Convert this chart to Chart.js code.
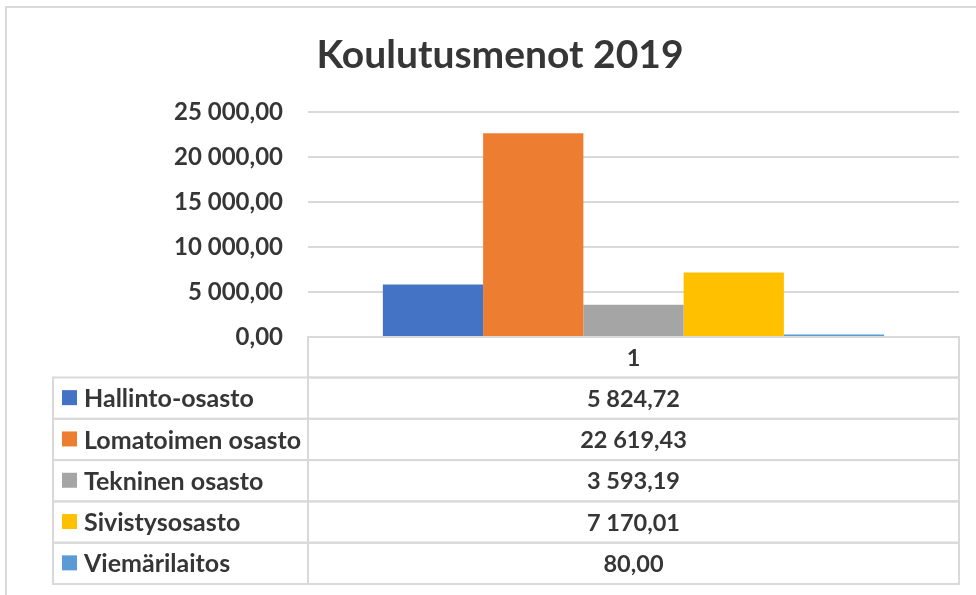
<!DOCTYPE html>
<html>
<head>
<meta charset="utf-8">
<script src="https://cdn.jsdelivr.net/npm/chart.js@4.4.1/dist/chart.umd.min.js"></script>
<style>
  html, body { margin: 0; padding: 0; background: #fff; overflow: hidden; }
  #wrap { position: relative; width: 976px; height: 595px; }
  #frame { position: absolute; left: 5px; top: 6px; width: 1100px; height: 700px; border: 2px solid #d9d9d9; box-sizing: border-box; }
  canvas { position: absolute; left: 0; top: 0; }
</style>
</head>
<body>
<div id="wrap">
  <div id="frame"></div>
  <canvas id="chart" width="976" height="595"></canvas>
</div>
<script>
// datos del gráfico
const categories   = ['1'];
const seriesNames  = ['Hallinto-osasto', 'Lomatoimen osasto', 'Tekninen osasto', 'Sivistysosasto', 'Viemärilaitos'];
const seriesValues = [5824.72, 22619.43, 3593.19, 7170.01, 80.00];
const seriesColors = ['#4472C4', '#ED7D31', '#A5A5A5', '#FFC000', '#5B9BD5'];
const yMin  = 0;
const yMax  = 25000;
const yStep = 5000;

const TEXT = '#363636';
const GRID = '#d9d9d9';

// formato finés: espacio como separador de miles y coma decimal
function fmtFi(n) {
  const [ent, dec] = Number(n).toFixed(2).split('.');
  return ent.replace(/\B(?=(\d{3})+(?!\d))/g, ' ') + ',' + dec;
}

// tabla de datos debajo del eje, como en Excel
const dataTable = {
  id: 'dataTable',
  afterDatasetsDraw(chart) {
    const { ctx } = chart;
    const x = chart.scales.x;
    const y = chart.scales.y;
    const top = y.getPixelForValue(0);
    const headH = 40.5;
    const rowH = 41.3;
    const labelLeft = x.left - 255;

    ctx.save();
    ctx.strokeStyle = GRID;
    ctx.lineWidth = 2;
    ctx.fillStyle = TEXT;
    ctx.textBaseline = 'middle';

    // cabecera con la categoría
    ctx.strokeRect(x.left, top, x.right - x.left, headH);
    ctx.font = 'bold 23.5px Lato';
    ctx.textAlign = 'center';
    ctx.fillText(categories[0], (x.left + x.right) / 2, top + headH / 2 + 1);

    let rt = top + headH;
    seriesNames.forEach((name, i) => {
      ctx.strokeStyle = GRID;
      ctx.strokeRect(labelLeft, rt, x.right - labelLeft, rowH);
      ctx.beginPath();
      ctx.moveTo(x.left, rt);
      ctx.lineTo(x.left, rt + rowH);
      ctx.stroke();

      const cy = rt + rowH / 2;
      ctx.fillStyle = seriesColors[i];
      ctx.fillRect(labelLeft + 9, cy - 8, 15, 15);

      ctx.fillStyle = TEXT;
      ctx.textAlign = 'left';
      ctx.font = 'bold 25px Lato';
      ctx.fillText(name, labelLeft + 31, cy + 1);
      ctx.textAlign = 'center';
      ctx.font = 'bold 23.5px Lato';
      ctx.fillText(fmtFi(seriesValues[i]), (x.left + x.right) / 2, cy + 1);
      rt += rowH;
    });
    ctx.restore();
  }
};

const ctx = document.getElementById('chart').getContext('2d');
new Chart(ctx, {
  type: 'bar',
  data: {
    labels: categories,
    datasets: seriesNames.map((name, i) => ({
      label: name,
      data: [seriesValues[i]],
      backgroundColor: seriesColors[i],
      borderWidth: 0,
      minBarLength: 2.5,
      categoryPercentage: 0.77,
      barPercentage: 1.0,
    })),
  },
  options: {
    responsive: false,
    animation: false,
    // el padding izquierdo centra el título sobre la zona de Excel
    layout: { padding: { left: 41, right: 17, top: 0, bottom: 258 } },
    plugins: {
      legend: { display: false },
      tooltip: { enabled: false },
      title: {
        display: true,
        text: 'Koulutusmenot 2019',
        color: TEXT,
        font: { family: 'Lato', weight: 'bold', size: 39 },
        padding: { top: 32, bottom: 33 },
      },
    },
    scales: {
      x: { display: false },
      y: {
        min: yMin,
        max: yMax,
        afterFit: s => { s.width = 267; },
        border: { display: false },
        grid: { color: GRID, lineWidth: 2, drawTicks: false },
        ticks: {
          stepSize: yStep,
          padding: 25,
          color: TEXT,
          font: { family: 'Lato', weight: 'bold', size: 24 },
          callback: v => fmtFi(v),
        },
      },
    },
  },
  plugins: [dataTable],
});
</script>
</body>
</html>
